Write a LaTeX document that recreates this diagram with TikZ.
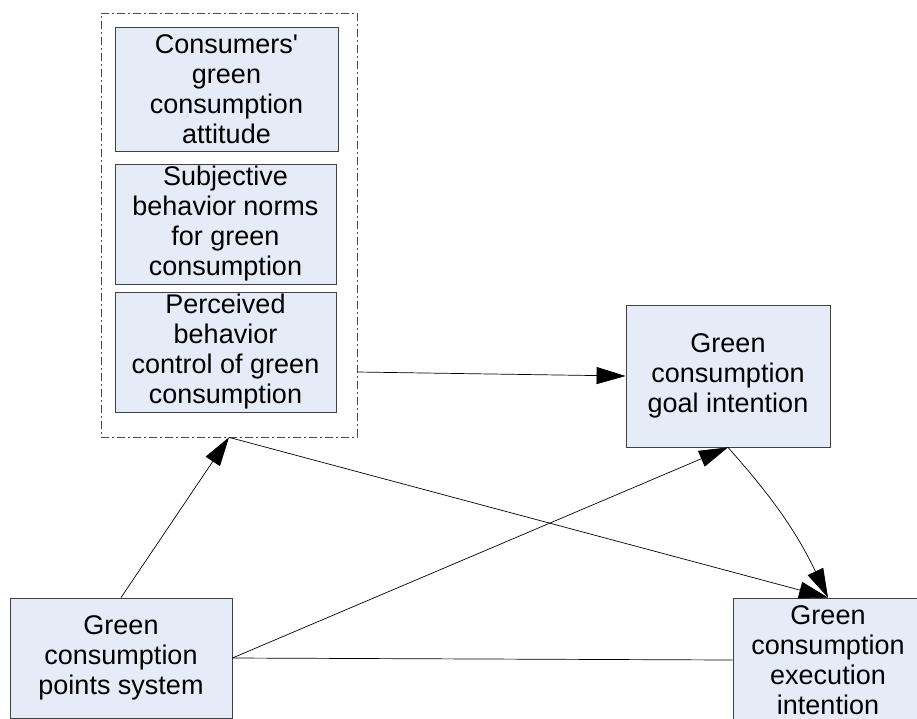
\documentclass[tikz,border=0pt]{standalone}
\usepackage{fontspec}
\setmainfont{Liberation Sans}
\usetikzlibrary{arrows.meta}
\definecolor{boxfill}{RGB}{230,236,247}
\definecolor{boxline}{RGB}{64,64,64}
\tikzset{
            greenbox/.style = {draw=boxline, fill=boxfill, line width=0.8pt, align=center, inner sep=0pt,
                font={\fontsize{27}{30}\selectfont}},
            outerbox/.style = {draw=black!70, line width=0.7pt, dash pattern=on 8pt off 3pt on 2pt off 3pt},
            arr/.style = {line width=0.7pt, -{Triangle[length=29pt,width=17pt]}}
        }
\begin{document}
\begin{tikzpicture}[x=1pt,y=-1pt]
            \useasboundingbox (0,0) rectangle (917,718);

            % the three attitude factors
            \node[outerbox, minimum width=256pt, minimum height=424pt] (group) at (229, 225) {};
            \node[greenbox, minimum width=223pt, minimum height=124pt] (attitude) at (226.5, 89) {Consumers\textquotesingle\\green\\consumption\\attitude};
            \node[greenbox, minimum width=221pt, minimum height=120pt] (norms) at (225.5, 224) {Subjective\\behavior norms\\for green\\consumption};
            \node[greenbox, minimum width=221pt, minimum height=120pt] (control) at (225.5, 352) {Perceived\\behavior\\control of green\\consumption};

            % intentions and points system
            \node[greenbox, minimum width=204pt, minimum height=142pt] (goal) at (728, 376) {Green\\consumption\\goal intention};
            \node[greenbox, minimum width=222pt, minimum height=120pt] (points) at (121, 658) {Green\\consumption\\points system};
            \node[greenbox, minimum width=190pt, minimum height=124pt] (execution) at (828, 660) {Green\\consumption\\execution\\intention};

            % links
            \draw[arr] ([yshift=-20pt]control.east -| group.east) -- (goal.west);
            \draw[arr] (points.north) -- (group.south);
            \draw[arr] (group.south) -- (execution.north);
            \draw[arr] (points.east) -- (goal.south);
            \draw[line width=0.7pt] (points.east) -- (execution.west);
            \draw[arr] (goal.south) to[bend left=8] (execution.north);
        \end{tikzpicture}
\end{document}
